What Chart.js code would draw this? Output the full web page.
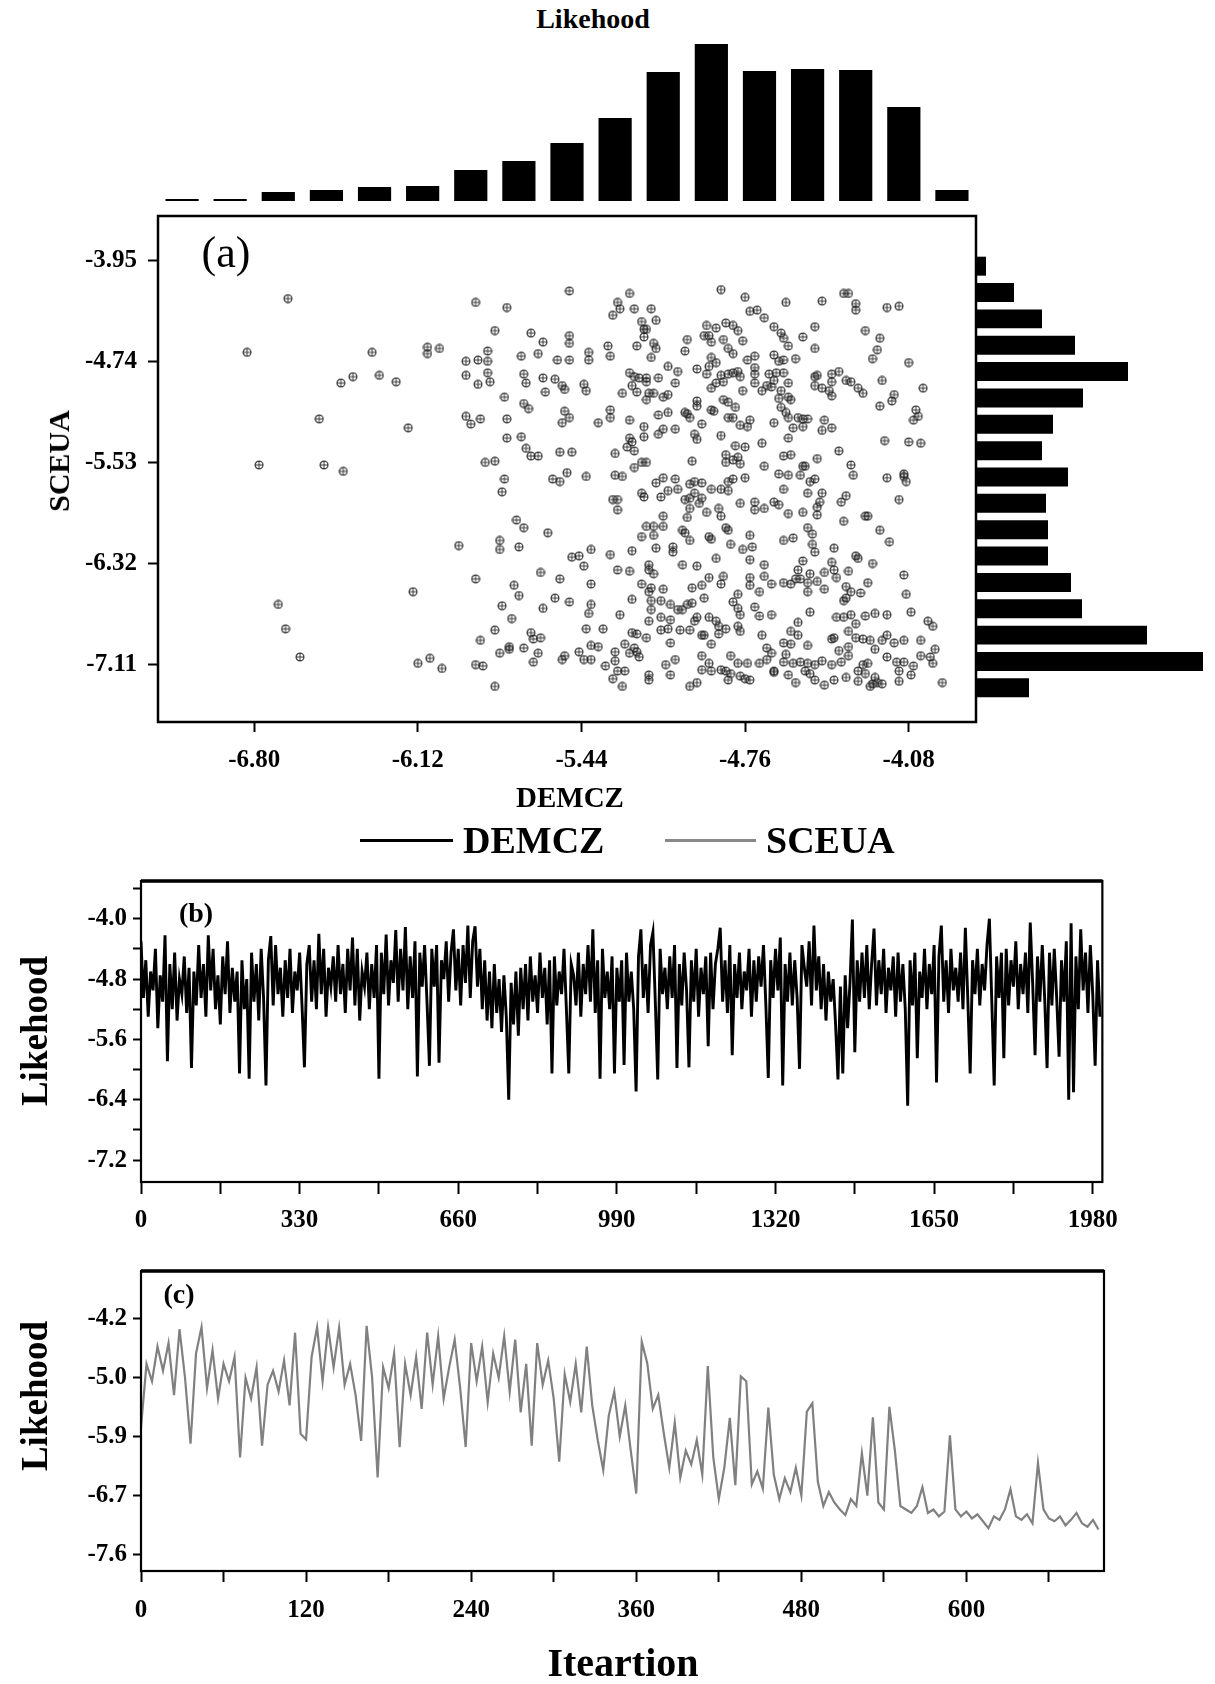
<!DOCTYPE html>
<html>
<head>
<meta charset="utf-8">
<script src="https://cdn.jsdelivr.net/npm/chart.js@4.4.1/dist/chart.umd.min.js"></script>
<style>
body { margin: 0; background: #fff; }
#page { position: relative; width: 1215px; height: 1684px; overflow: hidden; background: #fff; }
canvas { position: absolute; }
.t { position: absolute; font-family: 'Liberation Serif', 'Times New Roman', serif; font-weight: bold; color: #000;
     white-space: nowrap; line-height: 1; transform: translate(-50%, -50%); }
.rot { transform: translate(-50%, -50%) rotate(-90deg); }
.tl { transform: translate(0, -50%); }
.key { position: absolute; height: 3px; }
</style>
</head>
<body>
<div id="page">
  <canvas id="histTop" width="818" height="161" style="left:158px;top:40px"></canvas>
  <canvas id="histRight" width="239" height="448" style="left:976px;top:253px"></canvas>
  <canvas id="scatter" width="1000" height="592" style="left:0;top:190px"></canvas>
  <canvas id="chartB" width="1130" height="392" style="left:0;top:860px"></canvas>
  <canvas id="chartC" width="1130" height="391" style="left:0;top:1250px"></canvas>

  <div class="t" style="left:593px;top:19px;font-size:28px">Likehood</div>
  <div class="t" style="left:226px;top:253px;font-size:44px;font-weight:normal">(a)</div>
  <div class="t rot" style="left:59px;top:461px;font-size:30px">SCEUA</div>
  <div class="t" style="left:570px;top:797px;font-size:29px">DEMCZ</div>

  <div class="key" style="left:360px;top:839px;width:93px;background:#000"></div>
  <div class="t tl" style="left:463px;top:840px;font-size:38px">DEMCZ</div>
  <div class="key" style="left:665px;top:839px;width:91px;background:#888"></div>
  <div class="t tl" style="left:766px;top:840px;font-size:38px">SCEUA</div>

  <div class="t" style="left:196px;top:913px;font-size:28px">(b)</div>
  <div class="t rot" style="left:34px;top:1031px;font-size:37px">Likehood</div>
  <div class="t" style="left:179px;top:1294px;font-size:28px">(c)</div>
  <div class="t rot" style="left:34px;top:1396px;font-size:37px">Likehood</div>
  <div class="t" style="left:623px;top:1663px;font-size:40px">Iteartion</div>
</div>
<script>
// histogram of DEMCZ likelihood (top) and SCEUA likelihood (right)
const histTopBins = [-7.1, -6.9, -6.7, -6.5, -6.3, -6.1, -5.9, -5.7, -5.5, -5.3, -5.1, -4.9, -4.7, -4.5, -4.3, -4.1, -3.9];
const histTopCounts = [2, 2, 9, 11, 14, 15, 31, 40, 58, 83, 129, 157, 130, 132, 131, 94, 11];
const histRightBins = [-4.1, -4.3, -4.5, -4.7, -4.9, -5.1, -5.3, -5.5, -5.7, -5.9, -6.1, -6.3, -6.5, -6.7, -6.9, -7.1, -7.3];
const histRightCounts = [10, 38, 66, 99, 152, 107, 77, 66, 92, 70, 72, 72, 95, 106, 171, 227, 53];

// scatter: [DEMCZ, SCEUA]
const scatterPairs = [
  [-6.66,-4.25],[-5.49,-4.19],[-5.88,-4.28],[-5.75,-4.32],[-5.80,-4.50],[-5.65,-4.52],[-5.60,-4.59],[-5.49,-4.54],[-5.49,-4.60],[-6.83,-4.67],
  [-6.31,-4.67],[-6.08,-4.63],[-6.08,-4.68],[-6.03,-4.64],[-5.83,-4.66],[-5.92,-4.74],[-5.87,-4.73],[-5.83,-4.74],[-5.69,-4.70],[-5.62,-4.68],
  [-5.54,-4.73],[-5.49,-4.73],[-5.41,-4.67],[-5.41,-4.73],[-6.44,-4.91],[-6.39,-4.86],[-6.28,-4.85],[-6.21,-4.90],[-5.92,-4.85],[-5.83,-4.83],
  [-5.87,-4.92],[-5.82,-4.90],[-5.68,-4.84],[-5.67,-4.91],[-5.60,-4.87],[-5.55,-4.88],[-5.52,-4.93],[-5.51,-4.96],[-5.43,-4.92],[-5.42,-4.97],
  [-5.59,-4.98],[-5.76,-5.02],[-5.68,-5.07],[-5.66,-5.11],[-6.53,-5.19],[-6.16,-5.26],[-5.92,-5.17],[-5.90,-5.23],[-5.86,-5.19],[-5.75,-5.19],
  [-5.51,-5.13],[-5.49,-5.18],[-5.52,-5.22],[-5.37,-5.22],[-5.75,-5.34],[-5.69,-5.33],[-5.67,-5.42],[-5.65,-5.48],[-5.62,-5.48],[-5.53,-5.45],
  [-5.48,-5.45],[-5.84,-5.53],[-5.80,-5.52],[-6.78,-5.55],[-6.51,-5.55],[-6.43,-5.60],[-5.76,-5.66],[-5.56,-5.66],[-5.53,-5.68],[-5.50,-5.61],
  [-5.42,-5.64],
  [-5.77,-5.76],[-5.71,-5.98],[-5.68,-6.04],[-5.58,-6.08],[-5.95,-6.18],[-5.78,-6.14],[-5.78,-6.21],[-5.70,-6.19],[-5.40,-6.21],[-5.48,-6.27],
  [-5.45,-6.26],[-5.43,-6.34],[-5.61,-6.39],[-5.53,-6.44],[-5.88,-6.44],[-5.72,-6.49],[-5.70,-6.57],[-5.40,-6.48],[-6.14,-6.54],[-6.70,-6.64],
  [-5.77,-6.65],[-5.60,-6.67],[-5.55,-6.59],[-5.49,-6.62],[-5.40,-6.64],[-5.41,-6.71],[-5.73,-6.75],[-6.67,-6.83],[-5.80,-6.84],[-5.86,-6.92],
  [-5.65,-6.86],[-5.64,-6.91],[-5.61,-6.90],[-5.74,-6.97],[-5.74,-6.99],[-5.68,-6.98],[-5.62,-7.02],[-5.78,-7.02],[-5.45,-7.01],[-5.40,-6.96],
  [-5.37,-6.97],[-5.42,-6.83],[-5.51,-7.04],[-5.52,-7.07],[-5.43,-7.07],[-5.40,-7.07],[-5.64,-7.09],[-6.61,-7.05],[-6.12,-7.10],[-6.07,-7.06],
  [-6.02,-7.14],[-5.88,-7.11],[-5.85,-7.12],[-5.80,-7.28],
  [-5.24,-4.21],[-4.86,-4.18],[-4.76,-4.24],[-4.59,-4.28],[-4.44,-4.27],[-4.35,-4.21],[-4.33,-4.21],[-4.30,-4.29],[-4.30,-4.34],[-4.17,-4.32],
  [-4.12,-4.31],[-5.29,-4.28],[-5.28,-4.33],[-5.31,-4.38],[-5.22,-4.33],[-5.15,-4.33],[-4.74,-4.35],[-4.71,-4.34],[-4.68,-4.40],[-5.19,-4.43],
  [-5.13,-4.42],[-5.18,-4.49],[-5.17,-4.49],[-5.18,-4.55],[-5.21,-4.62],[-5.14,-4.60],[-5.13,-4.64],[-5.33,-4.62],[-5.32,-4.70],[-5.15,-4.71],
  [-4.92,-4.46],[-4.88,-4.48],[-4.84,-4.44],[-4.81,-4.46],[-4.79,-4.50],[-4.93,-4.54],[-4.91,-4.54],[-4.90,-4.59],[-5.00,-4.57],[-5.01,-4.66],
  [-4.85,-4.57],[-4.83,-4.64],[-4.81,-4.68],[-4.77,-4.58],[-4.64,-4.47],[-4.61,-4.52],[-4.60,-4.56],[-4.58,-4.62],[-4.52,-4.55],[-4.47,-4.47],
  [-4.47,-4.64],[-4.26,-4.50],[-4.20,-4.56],[-4.21,-4.65],[-4.23,-4.72],[-4.08,-4.75],[-4.64,-4.69],[-4.62,-4.74],[-4.60,-4.73],[-4.55,-4.72],
  [-4.72,-4.70],[-4.75,-4.73],[-4.90,-4.71],[-4.88,-4.75],[-5.08,-4.78],[-5.04,-4.82],[-4.96,-4.80],[-4.92,-4.84],[-4.91,-4.78],
  [-5.24,-4.83],[-5.22,-4.86],[-5.20,-4.87],[-5.17,-4.87],[-5.12,-4.87],[-5.23,-4.93],[-5.17,-4.90],[-5.05,-4.91],[-5.27,-4.99],[-5.21,-4.98],
  [-5.16,-4.99],[-5.14,-4.99],[-5.10,-5.02],[-5.08,-5.00],[-5.17,-5.04],[-4.86,-4.85],[-4.83,-4.84],[-4.81,-4.83],[-4.79,-4.82],[-4.78,-4.86],
  [-4.72,-4.79],[-4.72,-4.84],[-4.66,-4.84],[-4.63,-4.83],[-4.60,-4.83],[-4.88,-4.91],[-4.90,-4.95],[-4.85,-4.90],[-4.77,-4.97],[-4.72,-4.91],
  [-4.69,-4.97],[-4.67,-4.93],[-4.64,-4.89],[-4.65,-4.94],[-4.61,-4.97],[-4.58,-4.91],[-4.47,-4.86],[-4.46,-4.85],[-4.40,-4.84],[-4.37,-4.82],
  [-4.40,-4.90],[-4.34,-4.89],[-4.32,-4.90],[-4.47,-4.93],[-4.44,-4.95],[-4.41,-4.97],[-4.40,-5.01],[-4.29,-4.95],[-4.27,-4.99],[-4.19,-4.89],
  [-4.14,-5.00],[-4.15,-5.05],[-4.02,-4.95],[-4.62,-5.03],[-4.58,-5.02],[-4.57,-5.04],[-4.85,-5.04],[-4.83,-5.06],[-4.80,-5.10],[-4.96,-5.05],
  [-4.96,-5.09],
  [-5.32,-5.12],[-5.32,-5.18],[-5.24,-5.20],[-5.18,-5.25],[-5.12,-5.16],[-5.08,-5.14],[-5.01,-5.14],[-5.00,-5.15],[-4.99,-5.18],[-4.90,-5.12],
  [-4.89,-5.13],[-4.83,-5.18],[-4.81,-5.18],[-4.74,-5.20],[-4.75,-5.25],[-4.78,-5.24],[-4.61,-5.10],[-4.59,-5.14],[-4.58,-5.18],[-4.54,-5.18],
  [-4.52,-5.19],[-4.50,-5.19],[-4.64,-5.22],[-4.56,-5.26],[-4.52,-5.25],[-4.43,-5.20],[-4.44,-5.28],[-4.40,-5.26],[-4.20,-5.09],[-4.05,-5.12],
  [-4.04,-5.17],[-4.06,-5.20],[-4.94,-5.23],[-4.97,-5.31],[-4.96,-5.35],[-4.86,-5.32],[-5.10,-5.27],[-5.12,-5.31],[-5.05,-5.27],[-5.24,-5.34],
  [-5.23,-5.37],[-5.18,-5.33],[-5.22,-5.44],[-5.25,-5.41],[-5.30,-5.46],
  [-4.80,-5.40],[-4.76,-5.41],[-4.69,-5.38],[-4.58,-5.34],[-4.18,-5.36],[-4.08,-5.37],[-4.03,-5.38],[-4.37,-5.44],[-4.32,-5.55],[-4.31,-5.63],
  [-4.84,-5.47],[-4.84,-5.53],[-4.81,-5.51],[-4.79,-5.49],[-4.78,-5.54],[-4.60,-5.48],[-4.57,-5.47],[-4.46,-5.50],[-4.52,-5.56],[-4.51,-5.56],
  [-4.98,-5.52],[-5.17,-5.53],[-5.19,-5.53],[-5.22,-5.57],[-5.30,-5.63],[-5.27,-5.64],[-4.68,-5.56],[-4.62,-5.62],[-4.58,-5.63],[-4.53,-5.63],
  [-4.47,-5.66],[-4.49,-5.68],[-4.17,-5.65],[-4.10,-5.62],[-4.10,-5.64],[-4.09,-5.68],[-5.10,-5.65],[-5.05,-5.66],[-5.13,-5.69],[-4.97,-5.68],
  [-4.94,-5.69],[-4.99,-5.70],[-4.83,-5.68],[-4.81,-5.66],[-4.76,-5.65],
  [-5.29,-5.82],[-5.31,-5.82],[-5.29,-5.90],[-5.19,-5.77],[-5.18,-5.80],[-5.11,-5.80],[-5.08,-5.75],[-5.04,-5.74],[-5.01,-5.82],[-4.99,-5.81],
  [-4.97,-5.77],[-4.94,-5.81],[-4.95,-5.85],[-4.99,-5.89],[-5.00,-5.96],[-4.92,-5.92],[-4.87,-5.89],[-4.86,-5.95],[-4.90,-5.74],[-4.86,-5.74],
  [-4.83,-5.75],[-4.78,-5.85],[-4.72,-5.84],[-4.72,-5.90],[-4.68,-5.89],[-4.64,-5.84],[-4.62,-5.86],[-4.60,-5.74],[-4.58,-5.93],[-4.52,-5.92],
  [-4.50,-5.77],[-4.44,-5.77],[-4.45,-5.84],[-4.46,-5.88],[-4.46,-5.94],[-4.34,-5.79],[-4.36,-5.84],[-4.26,-5.95],[-4.25,-5.95],[-4.12,-5.82],
  [-5.17,-6.03],[-5.14,-6.03],[-5.10,-6.03],[-5.19,-6.11],[-5.14,-6.10],[-5.10,-5.95],[-5.02,-6.06],[-5.01,-6.08],[-4.99,-6.14],[-4.91,-6.11],
  [-4.90,-6.13],[-4.84,-6.04],[-4.83,-6.06],[-4.74,-6.10],[-4.82,-6.17],[-4.77,-6.21],[-4.73,-6.19],[-4.60,-6.14],[-4.56,-6.12],[-4.50,-6.04],
  [-4.48,-6.09],[-4.48,-6.17],[-4.47,-6.23],[-4.35,-5.99],[-4.20,-6.06],[-4.16,-6.15],[-5.32,-6.25],[-5.23,-6.22],[-5.13,-6.20],[-5.06,-6.19],
  [-5.06,-6.23],[-4.88,-6.28],[-4.74,-6.29],[-4.68,-6.33],[-4.52,-6.30],[-4.40,-6.31],[-4.39,-6.20],[-4.30,-6.26],[-4.29,-6.28],[-4.23,-6.32],
  [-5.29,-6.37],[-5.24,-6.38],[-5.16,-6.33],[-5.16,-6.37],[-5.14,-6.40],[-5.02,-6.33],[-4.96,-6.34],[-4.91,-6.43],[-4.85,-6.42],[-4.86,-6.48],
  [-4.74,-6.43],[-4.74,-6.49],[-4.68,-6.42],[-4.65,-6.48],[-4.60,-6.47],[-4.57,-6.48],[-4.55,-6.44],[-4.53,-6.44],[-4.54,-6.37],[-4.50,-6.47],
  [-4.50,-6.54],[-4.49,-6.40],[-4.46,-6.46],[-4.43,-6.39],[-4.43,-6.52],[-4.39,-6.37],[-4.38,-6.43],[-4.33,-6.38],[-4.34,-6.50],[-4.32,-6.54],
  [-4.28,-6.55],[-4.25,-6.47],[-4.10,-6.41],[-5.19,-6.48],[-5.15,-6.51],[-5.16,-6.54],[-5.10,-6.52],[-4.98,-6.51],[-4.94,-6.49],[-4.93,-6.59],
  [-5.07,-6.64],[-5.15,-6.61],[-5.11,-6.61],[-5.23,-6.60],[-4.79,-6.56],[-4.81,-6.62],[-4.79,-6.67],[-4.70,-6.54],[-4.72,-6.66],[-4.78,-6.72],
  [-4.70,-6.73],[-4.65,-6.72],[-4.49,-6.70],[-4.38,-6.74],[-4.35,-6.74],[-4.32,-6.72],[-4.30,-6.79],[-4.35,-6.61],[-4.34,-6.59],[-4.26,-6.73],
  [-4.22,-6.71],[-4.17,-6.72],[-4.09,-6.56],[-4.07,-6.70],[-4.00,-6.77],[-3.98,-6.81],[-5.28,-6.72],[-5.15,-6.68],[-5.11,-6.74],[-5.16,-6.77],
  [-5.07,-6.76],[-5.04,-6.68],[-5.02,-6.68],[-5.00,-6.64],[-4.98,-6.63],[-4.96,-6.74],[-4.97,-6.77],[-4.91,-6.74],[-4.88,-6.77],[-4.87,-6.81],
  [-5.35,-6.83],[-5.23,-6.86],[-5.21,-6.87],[-5.17,-6.90],[-5.11,-6.84],[-5.08,-6.83],[-5.03,-6.84],[-4.99,-6.84],[-4.94,-6.88],[-4.93,-6.88],
  [-4.90,-6.95],[-4.87,-6.87],[-4.84,-6.83],[-4.79,-6.81],[-4.78,-6.85],[-4.69,-6.88],[-4.54,-6.78],[-4.57,-6.85],[-4.54,-6.88],[-4.33,-6.85],
  [-4.30,-6.90],[-4.27,-6.91],[-4.24,-6.92],[-4.19,-6.92],[-4.17,-6.88],[-4.14,-6.94],[-4.10,-6.92],[-4.03,-6.92],[-3.97,-6.99],[-4.60,-6.94],
  [-4.57,-6.95],[-4.50,-6.96],[-4.40,-6.91],[-4.39,-6.90],[-4.37,-7.00],[-4.33,-6.97],[-4.67,-6.98],[-4.65,-7.02],[-4.59,-7.03],[-5.07,-6.94],
  [-5.26,-6.95],[-5.22,-6.98],[-5.30,-7.01],[-5.24,-7.02],[-5.21,-7.01],[-5.20,-7.05],[-4.94,-7.04],[-4.91,-7.10],[-4.82,-7.04],[-4.79,-7.10],
  [-4.75,-7.10],[-4.70,-7.10],[-4.67,-7.07],[-4.64,-7.16],[-4.60,-7.09],[-4.56,-7.10],[-4.53,-7.09],[-4.50,-7.10],[-4.47,-7.11],[-4.44,-7.08],
  [-4.40,-7.11],[-4.36,-7.09],[-4.33,-7.04],[-4.27,-7.11],[-4.25,-7.10],[-4.22,-6.99],[-4.17,-7.05],[-4.13,-7.09],[-4.10,-7.09],[-4.06,-7.12],
  [-4.03,-7.04],[-3.99,-7.05],[-3.98,-7.10],[-5.34,-7.12],[-5.30,-7.08],[-5.09,-7.11],[-5.05,-7.07],[-5.29,-7.16],[-5.31,-7.22],[-5.26,-7.16],
  [-5.16,-7.19],[-5.16,-7.23],[-5.07,-7.19],[-4.94,-7.15],[-4.90,-7.16],[-4.86,-7.15],[-4.84,-7.16],[-4.82,-7.18],[-4.78,-7.20],[-4.76,-7.22],
  [-4.74,-7.23],[-4.64,-7.17],[-4.58,-7.19],[-4.55,-7.25],[-4.51,-7.16],[-4.49,-7.18],[-4.47,-7.23],[-4.43,-7.27],[-4.39,-7.23],[-4.34,-7.21],
  [-4.29,-7.16],[-4.26,-7.18],[-4.22,-7.21],[-4.21,-7.25],[-4.19,-7.26],[-4.12,-7.16],[-4.12,-7.24],[-4.07,-7.19],[-5.27,-7.28],[-4.99,-7.28],
  [-4.96,-7.25],[-4.83,-7.23],[-3.94,-7.25],[-4.24,-7.28],[-4.23,-7.26],[-4.29,-7.24]
];
const scatterXTicks = [-6.80, -6.12, -5.44, -4.76, -4.08];
const scatterYTicks = [-3.95, -4.74, -5.53, -6.32, -7.11];

// (b) DEMCZ likelihood, one value every 5 iterations
const demczStep = 5;
const demczLikelihood = [
  -4.30,-5.05,-4.55,-5.30,-4.70,-4.95,-4.40,-5.45,-4.75,-5.10,-4.22,-5.89,-4.60,-5.20,-4.45,-5.35,-4.80,-5.00,-4.50,-5.25,
  -4.65,-5.98,-4.70,-5.15,-4.35,-5.05,-4.60,-5.30,-4.22,-4.95,-4.40,-5.20,-4.75,-5.40,-4.50,-5.00,-4.30,-5.25,-4.65,-5.10,
  -4.70,-6.05,-4.55,-5.20,-4.80,-6.12,-4.45,-5.10,-4.60,-5.35,-4.40,-5.05,-6.21,-4.55,-4.23,-5.15,-4.35,-5.00,-4.65,-5.30,
  -4.55,-5.05,-4.40,-5.25,-4.70,-4.95,-4.45,-5.15,-5.97,-4.60,-4.35,-5.10,-4.55,-5.20,-4.20,-5.00,-4.40,-5.30,-4.65,-4.90,
  -4.50,-5.10,-4.35,-5.00,-4.60,-5.25,-4.40,-4.95,-4.25,-5.15,-4.40,-5.35,-4.70,-4.90,-4.45,-5.20,-4.60,-5.05,-4.35,-6.12,
  -4.45,-5.00,-4.21,-5.15,-4.55,-4.85,-4.15,-5.10,-4.40,-4.95,-4.11,-5.20,-4.50,-5.05,-4.30,-6.09,-4.45,-4.90,-4.35,-5.10,
  -5.95,-4.40,-4.90,-4.35,-5.91,-4.55,-4.80,-4.30,-5.10,-4.45,-4.14,-4.95,-4.40,-5.15,-4.35,-4.85,-4.09,-5.05,-4.30,-4.10,
  -4.90,-4.40,-5.20,-4.55,-5.35,-4.70,-5.45,-4.60,-5.25,-4.80,-5.50,-4.75,-5.30,-6.40,-4.85,-5.40,-4.70,-5.55,-4.65,-5.20,
  -4.60,-5.35,-4.50,-5.10,-4.75,-5.25,-4.45,-5.05,-4.65,-5.40,-4.55,-6.05,-4.50,-5.15,-4.70,-5.00,-4.40,-5.20,-6.05,-4.60,
  -4.75,-5.15,-4.45,-5.30,-4.60,-5.00,-4.35,-5.10,-4.14,-5.25,-4.55,-6.12,-4.40,-5.05,-4.70,-5.20,-4.50,-6.05,-4.65,-5.10,
  -4.55,-5.94,-4.45,-5.10,-4.70,-5.20,-6.29,-4.50,-4.14,-5.05,-4.60,-5.25,-4.35,-4.18,-5.10,-6.13,-4.40,-5.00,-4.65,-5.20,
  -4.50,-5.05,-4.35,-5.98,-4.60,-5.15,-4.45,-4.95,-5.97,-4.55,-5.10,-4.40,-5.30,-4.65,-5.00,-4.50,-5.69,-4.45,-5.20,-4.60,
  -4.40,-4.12,-5.10,-4.55,-5.25,-4.35,-5.81,-4.60,-5.05,-4.45,-5.20,-4.70,-4.95,-4.40,-5.30,-4.55,-5.10,-4.50,-4.90,-4.35,
  -5.15,-6.11,-4.55,-5.05,-4.40,-4.95,-4.25,-6.21,-4.60,-5.10,-4.45,-5.15,-4.55,-5.05,-5.99,-4.35,-4.65,-4.90,-4.30,-5.15,
  -4.09,-4.95,-4.50,-5.20,-4.60,-5.35,-4.70,-5.10,-4.80,-5.40,-6.13,-4.90,-6.05,-4.75,-5.45,-4.85,-4.01,-5.77,-4.55,-5.10,
  -4.45,-5.05,-4.35,-5.20,-4.60,-4.13,-5.15,-4.55,-5.00,-4.40,-5.25,-4.65,-4.95,-4.50,-5.30,-4.45,-5.10,-4.60,-5.20,-6.48,
  -4.55,-5.15,-4.45,-5.85,-4.70,-5.05,-4.40,-5.20,-4.60,-5.00,-4.35,-6.17,-4.50,-4.09,-5.10,-4.55,-5.25,-4.40,-4.95,-4.65,
  -5.10,-4.45,-5.20,-4.12,-5.05,-6.05,-4.55,-5.00,-4.40,-5.15,-4.60,-4.95,-4.35,-4.00,-5.10,-6.21,-4.50,-5.05,-4.45,-5.85,
  -4.40,-5.15,-4.55,-4.90,-4.30,-5.20,-4.60,-5.00,-4.45,-5.25,-4.05,-4.85,-5.81,-4.50,-5.10,-4.35,-5.05,-5.98,-4.45,-5.15,
  -4.40,-5.05,-5.83,-4.55,-5.10,-4.30,-6.40,-4.06,-6.30,-4.50,-5.20,-4.14,-4.95,-4.45,-5.25,-4.35,-5.00,-5.95,-4.55,-5.30
];
const bXTicks = [0, 165, 330, 495, 660, 825, 990, 1155, 1320, 1485, 1650, 1815, 1980];
const bXLabels = ['0', '', '330', '', '660', '', '990', '', '1320', '', '1650', '', '1980'];
const bYTicks = [-3.6, -4.0, -4.4, -4.8, -5.2, -5.6, -6.0, -6.4, -6.8, -7.2];
const bYLabels = ['', '-4.0', '', '-4.8', '', '-5.6', '', '-6.4', '', '-7.2'];

// (c) SCEUA likelihood, one value every 4 iterations
const sceuaStep = 4;
const sceuaLikelihood = [
  -5.77,-4.85,-5.10,-4.60,-4.95,-4.55,-5.30,-4.35,-5.05,-6.00,-4.70,-4.32,-5.20,-4.65,-5.35,-4.85,-5.10,-4.75,-6.20,-5.05,-5.35,-4.90,-6.03,-5.15,-4.95,
  -5.25,-4.80,-5.45,-4.40,-5.86,-5.94,-4.75,-4.32,-5.10,-4.32,-4.90,-4.33,-5.15,-4.85,-5.30,-5.96,-4.30,-5.05,-6.49,-4.90,-5.20,-4.70,-6.05,-4.85,-5.30,
  -4.75,-5.50,-4.40,-5.15,-4.45,-5.35,-4.90,-4.50,-5.20,-6.05,-4.55,-5.10,-4.60,-5.40,-4.70,-5.05,-4.45,-5.25,-4.50,-5.55,-4.85,-6.03,-4.55,-5.15,-4.80,
  -5.35,-6.26,-5.00,-5.40,-4.85,-5.55,-4.60,-5.45,-5.95,-6.38,-5.60,-5.25,-5.90,-5.45,-6.10,-6.72,-4.53,-4.84,-5.50,-5.30,-5.85,-6.35,-5.70,-6.49,-6.10,
  -6.30,-5.95,-6.45,-4.88,-6.20,-6.80,-6.35,-5.63,-6.60,-5.03,-5.10,-6.59,-6.40,-6.65,-5.48,-6.45,-6.80,-6.50,-6.70,-6.35,-6.75,-5.54,-5.42,-6.55,-6.90,
  -6.70,-6.85,-6.95,-7.03,-6.80,-6.90,-6.14,-6.75,-5.62,-6.85,-6.95,-5.47,-6.10,-6.90,-6.95,-7.00,-6.90,-6.63,-7.00,-6.95,-7.05,-6.98,-5.88,-6.95,-7.05,
  -6.98,-7.08,-7.02,-7.12,-7.22,-7.05,-7.10,-6.95,-6.66,-7.05,-7.10,-7.02,-7.15,-6.28,-6.95,-7.08,-7.12,-7.05,-7.18,-7.10,-7.00,-7.15,-7.20,-7.10,-7.24
];
const cXTicks = [0, 60, 120, 180, 240, 300, 360, 420, 480, 540, 600, 660];
const cXLabels = ['0', '', '120', '', '240', '', '360', '', '480', '', '600', ''];
const cYTicks = [-4.2, -5.05, -5.9, -6.75, -7.6];
const cYLabels = ['-4.2', '-5.0', '-5.9', '-6.7', '-7.6'];

Chart.defaults.font.family = "'Liberation Serif', 'Times New Roman', serif";
Chart.defaults.font.size = 25;
Chart.defaults.font.weight = 'bold';
Chart.defaults.color = '#000';
Chart.defaults.animation = false;
Chart.defaults.plugins.legend.display = false;
Chart.defaults.plugins.tooltip.enabled = false;

// box round the plot area
const framePlugin = {
  id: 'frame',
  afterDraw(chart, args, opts) {
    const a = chart.chartArea;
    const ctx = chart.ctx;
    ctx.save();
    ctx.strokeStyle = '#000';
    ctx.lineWidth = opts.width || 2.5;
    ctx.strokeRect(a.left, a.top, a.right - a.left, a.bottom - a.top);
    if (opts.topWidth) {
      ctx.lineWidth = opts.topWidth;
      ctx.beginPath();
      ctx.moveTo(a.left, a.top);
      ctx.lineTo(a.right, a.top);
      ctx.stroke();
    }
    ctx.restore();
  }
};

function axis(min, max, position, tickValues, tickLabels, size, tickLength, padding) {
  return {
    type: 'linear', min: min, max: max, position: position,
    afterBuildTicks: s => { s.ticks = tickValues.map(v => ({ value: v })); },
    afterFit: s => { if (position === 'left') s.width = size; else s.height = size; },
    ticks: { autoSkip: false, maxRotation: 0, padding: padding, callback: (v, i) => tickLabels[i] },
    grid: { drawOnChartArea: false, tickLength: tickLength, tickWidth: 2, tickColor: '#000' },
    border: { display: false }
  };
}

// marker: circle with a cross
function makeMarker() {
  const c = document.createElement('canvas');
  c.width = 10; c.height = 10;
  const g = c.getContext('2d');
  g.strokeStyle = 'rgba(30,30,30,0.85)';
  g.lineWidth = 1.3;
  g.beginPath(); g.arc(5, 5, 3.9, 0, Math.PI * 2); g.stroke();
  g.lineWidth = 1;
  g.beginPath(); g.moveTo(1, 5); g.lineTo(9, 5); g.moveTo(5, 1); g.lineTo(5, 9); g.stroke();
  return c;
}

new Chart(document.getElementById('histTop'), {
  type: 'bar',
  data: { labels: histTopBins, datasets: [{ data: histTopCounts, backgroundColor: '#000', barPercentage: 0.69, categoryPercentage: 1 }] },
  options: { responsive: false, layout: { padding: 0 },
    scales: { x: { display: false }, y: { display: false, min: 0, max: 161 } } }
});

new Chart(document.getElementById('histRight'), {
  type: 'bar',
  data: { labels: histRightBins, datasets: [{ data: histRightCounts, backgroundColor: '#000', barPercentage: 0.72, categoryPercentage: 1 }] },
  options: { responsive: false, indexAxis: 'y', layout: { padding: 0 },
    scales: { y: { display: false }, x: { display: false, min: 0, max: 239 } } }
});

new Chart(document.getElementById('scatter'), {
  type: 'scatter',
  data: { datasets: [{ data: scatterPairs.map(p => ({ x: p[0], y: p[1] })), pointStyle: makeMarker(), pointRadius: 5 }] },
  options: {
    responsive: false,
    layout: { padding: { top: 11, right: 24, left: 0, bottom: 0 } },
    plugins: { frame: { width: 2.5 } },
    scales: {
      x: axis(-7.2, -3.8, 'bottom', scatterXTicks, scatterXTicks.map(v => v.toFixed(2)), 60, 10, 14),
      y: axis(-7.558, -3.605, 'left', scatterYTicks, scatterYTicks.map(v => v.toFixed(2)), 158, 10, 11)
    }
  },
  plugins: [framePlugin]
});

new Chart(document.getElementById('chartB'), {
  type: 'line',
  data: { datasets: [{ data: demczLikelihood.map((v, i) => ({ x: i * demczStep, y: v })),
    borderColor: '#000', borderWidth: 2.9, pointRadius: 0, tension: 0 }] },
  options: {
    responsive: false,
    layout: { padding: { top: 13, right: 26, left: 0, bottom: 0 } },
    plugins: { frame: { width: 2.2, topWidth: 3.5 } },
    scales: {
      x: axis(0, 2000, 'bottom', bXTicks, bXLabels, 70, 12, 12),
      y: axis(-7.49, -3.5, 'left', bYTicks, bYLabels, 141, 8, 6)
    }
  },
  plugins: [framePlugin]
});

new Chart(document.getElementById('chartC'), {
  type: 'line',
  data: { datasets: [{ data: sceuaLikelihood.map((v, i) => ({ x: i * sceuaStep, y: v })),
    borderColor: '#808080', borderWidth: 2.2, pointRadius: 0, tension: 0 }] },
  options: {
    responsive: false,
    layout: { padding: { top: 12, right: 26, left: 0, bottom: 0 } },
    plugins: { frame: { width: 2.2, topWidth: 3.5 } },
    scales: {
      x: axis(0, 700, 'bottom', cXTicks, cXLabels, 70, 11, 14),
      y: axis(-7.838, -3.51, 'left', cYTicks, cYLabels, 141, 8, 6)
    }
  },
  plugins: [framePlugin]
});
</script>
</body>
</html>
